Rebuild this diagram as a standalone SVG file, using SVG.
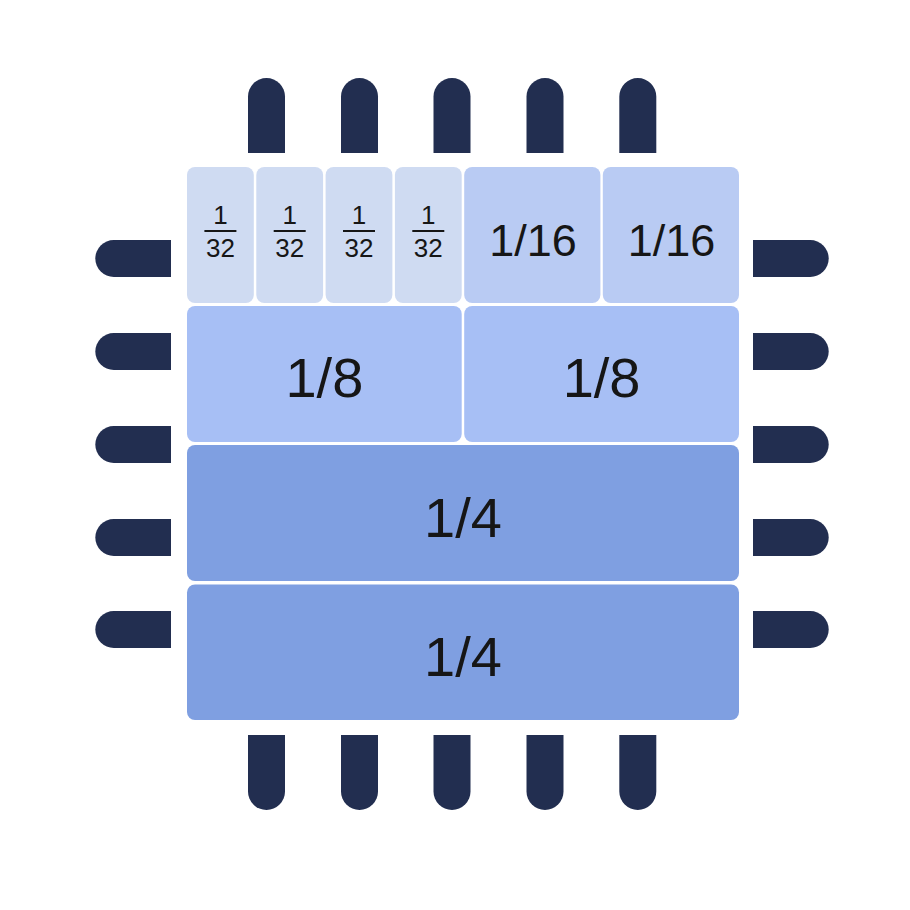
<svg xmlns="http://www.w3.org/2000/svg" width="910" height="910" viewBox="0 0 910 910">
<style>
.pin{fill:#222E50}
.c32{fill:#CFDBF2}
.c16{fill:#B9CBF3}
.c8{fill:#A7BFF5}
.c4{fill:#7F9FE1}
.t{font-family:"Liberation Sans",Arial,sans-serif;fill:#161616;text-anchor:middle}
.fl{stroke:#161616;stroke-width:2}
</style>
<rect width="910" height="910" fill="#ffffff"/>
<g id="pins-top">
<path class="pin" d="M248,153V96.5A18.5,18.5 0 0 1 285,96.5V153Z"/>
<path class="pin" d="M341,153V96.5A18.5,18.5 0 0 1 378,96.5V153Z"/>
<path class="pin" d="M433.5,153V96.5A18.5,18.5 0 0 1 470.5,96.5V153Z"/>
<path class="pin" d="M526.5,153V96.5A18.5,18.5 0 0 1 563.5,96.5V153Z"/>
<path class="pin" d="M619.3,153V96.5A18.5,18.5 0 0 1 656.3,96.5V153Z"/>
</g>
<g id="pins-bottom">
<path class="pin" d="M248,735V791.5A18.5,18.5 0 0 0 285,791.5V735Z"/>
<path class="pin" d="M341,735V791.5A18.5,18.5 0 0 0 378,791.5V735Z"/>
<path class="pin" d="M433.5,735V791.5A18.5,18.5 0 0 0 470.5,791.5V735Z"/>
<path class="pin" d="M526.5,735V791.5A18.5,18.5 0 0 0 563.5,791.5V735Z"/>
<path class="pin" d="M619.3,735V791.5A18.5,18.5 0 0 0 656.3,791.5V735Z"/>
</g>
<g id="pins-left">
<path class="pin" d="M171,240H113.8A18.5,18.5 0 0 0 113.8,277H171Z"/>
<path class="pin" d="M171,333H113.8A18.5,18.5 0 0 0 113.8,370H171Z"/>
<path class="pin" d="M171,426H113.8A18.5,18.5 0 0 0 113.8,463H171Z"/>
<path class="pin" d="M171,519H113.8A18.5,18.5 0 0 0 113.8,556H171Z"/>
<path class="pin" d="M171,611H113.8A18.5,18.5 0 0 0 113.8,648H171Z"/>
</g>
<g id="pins-right">
<path class="pin" d="M753,240H810.2A18.5,18.5 0 0 1 810.2,277H753Z"/>
<path class="pin" d="M753,333H810.2A18.5,18.5 0 0 1 810.2,370H753Z"/>
<path class="pin" d="M753,426H810.2A18.5,18.5 0 0 1 810.2,463H753Z"/>
<path class="pin" d="M753,519H810.2A18.5,18.5 0 0 1 810.2,556H753Z"/>
<path class="pin" d="M753,611H810.2A18.5,18.5 0 0 1 810.2,648H753Z"/>
</g>
<g id="cell-32-1">
<rect class="c32" x="187" y="167" width="66.8" height="136" rx="8"/>
<text class="t" x="220.4" y="224" font-size="26">1</text>
<line class="fl" x1="204.4" y1="231" x2="236.4" y2="231"/>
<text class="t" x="220.4" y="257" font-size="26">32</text>
</g>
<g id="cell-32-2">
<rect class="c32" x="256.3" y="167" width="66.8" height="136" rx="8"/>
<text class="t" x="289.7" y="224" font-size="26">1</text>
<line class="fl" x1="273.7" y1="231" x2="305.7" y2="231"/>
<text class="t" x="289.7" y="257" font-size="26">32</text>
</g>
<g id="cell-32-3">
<rect class="c32" x="325.6" y="167" width="66.8" height="136" rx="8"/>
<text class="t" x="359" y="224" font-size="26">1</text>
<line class="fl" x1="343" y1="231" x2="375" y2="231"/>
<text class="t" x="359" y="257" font-size="26">32</text>
</g>
<g id="cell-32-4">
<rect class="c32" x="394.9" y="167" width="66.8" height="136" rx="8"/>
<text class="t" x="428.3" y="224" font-size="26">1</text>
<line class="fl" x1="412.3" y1="231" x2="444.3" y2="231"/>
<text class="t" x="428.3" y="257" font-size="26">32</text>
</g>
<g id="cell-16-1">
<rect class="c16" x="464.2" y="167" width="136.2" height="136" rx="8"/>
<text class="t" x="533" y="256" font-size="45">1/16</text>
</g>
<g id="cell-16-2">
<rect class="c16" x="602.8" y="167" width="136.2" height="136" rx="8"/>
<text class="t" x="671.5" y="256" font-size="45">1/16</text>
</g>
<g id="cell-8-1">
<rect class="c8" x="187" y="306" width="274.7" height="136" rx="8"/>
<text class="t" x="324.4" y="397" font-size="56">1/8</text>
</g>
<g id="cell-8-2">
<rect class="c8" x="464.2" y="306" width="274.8" height="136" rx="8"/>
<text class="t" x="601.6" y="397" font-size="56">1/8</text>
</g>
<g id="cell-4-1">
<rect class="c4" x="187" y="445" width="552" height="136" rx="8"/>
<text class="t" x="463" y="537" font-size="56">1/4</text>
</g>
<g id="cell-4-2">
<rect class="c4" x="187" y="584.5" width="552" height="135.5" rx="8"/>
<text class="t" x="463" y="676" font-size="56">1/4</text>
</g>
<g id="connectors"></g>
</svg>
